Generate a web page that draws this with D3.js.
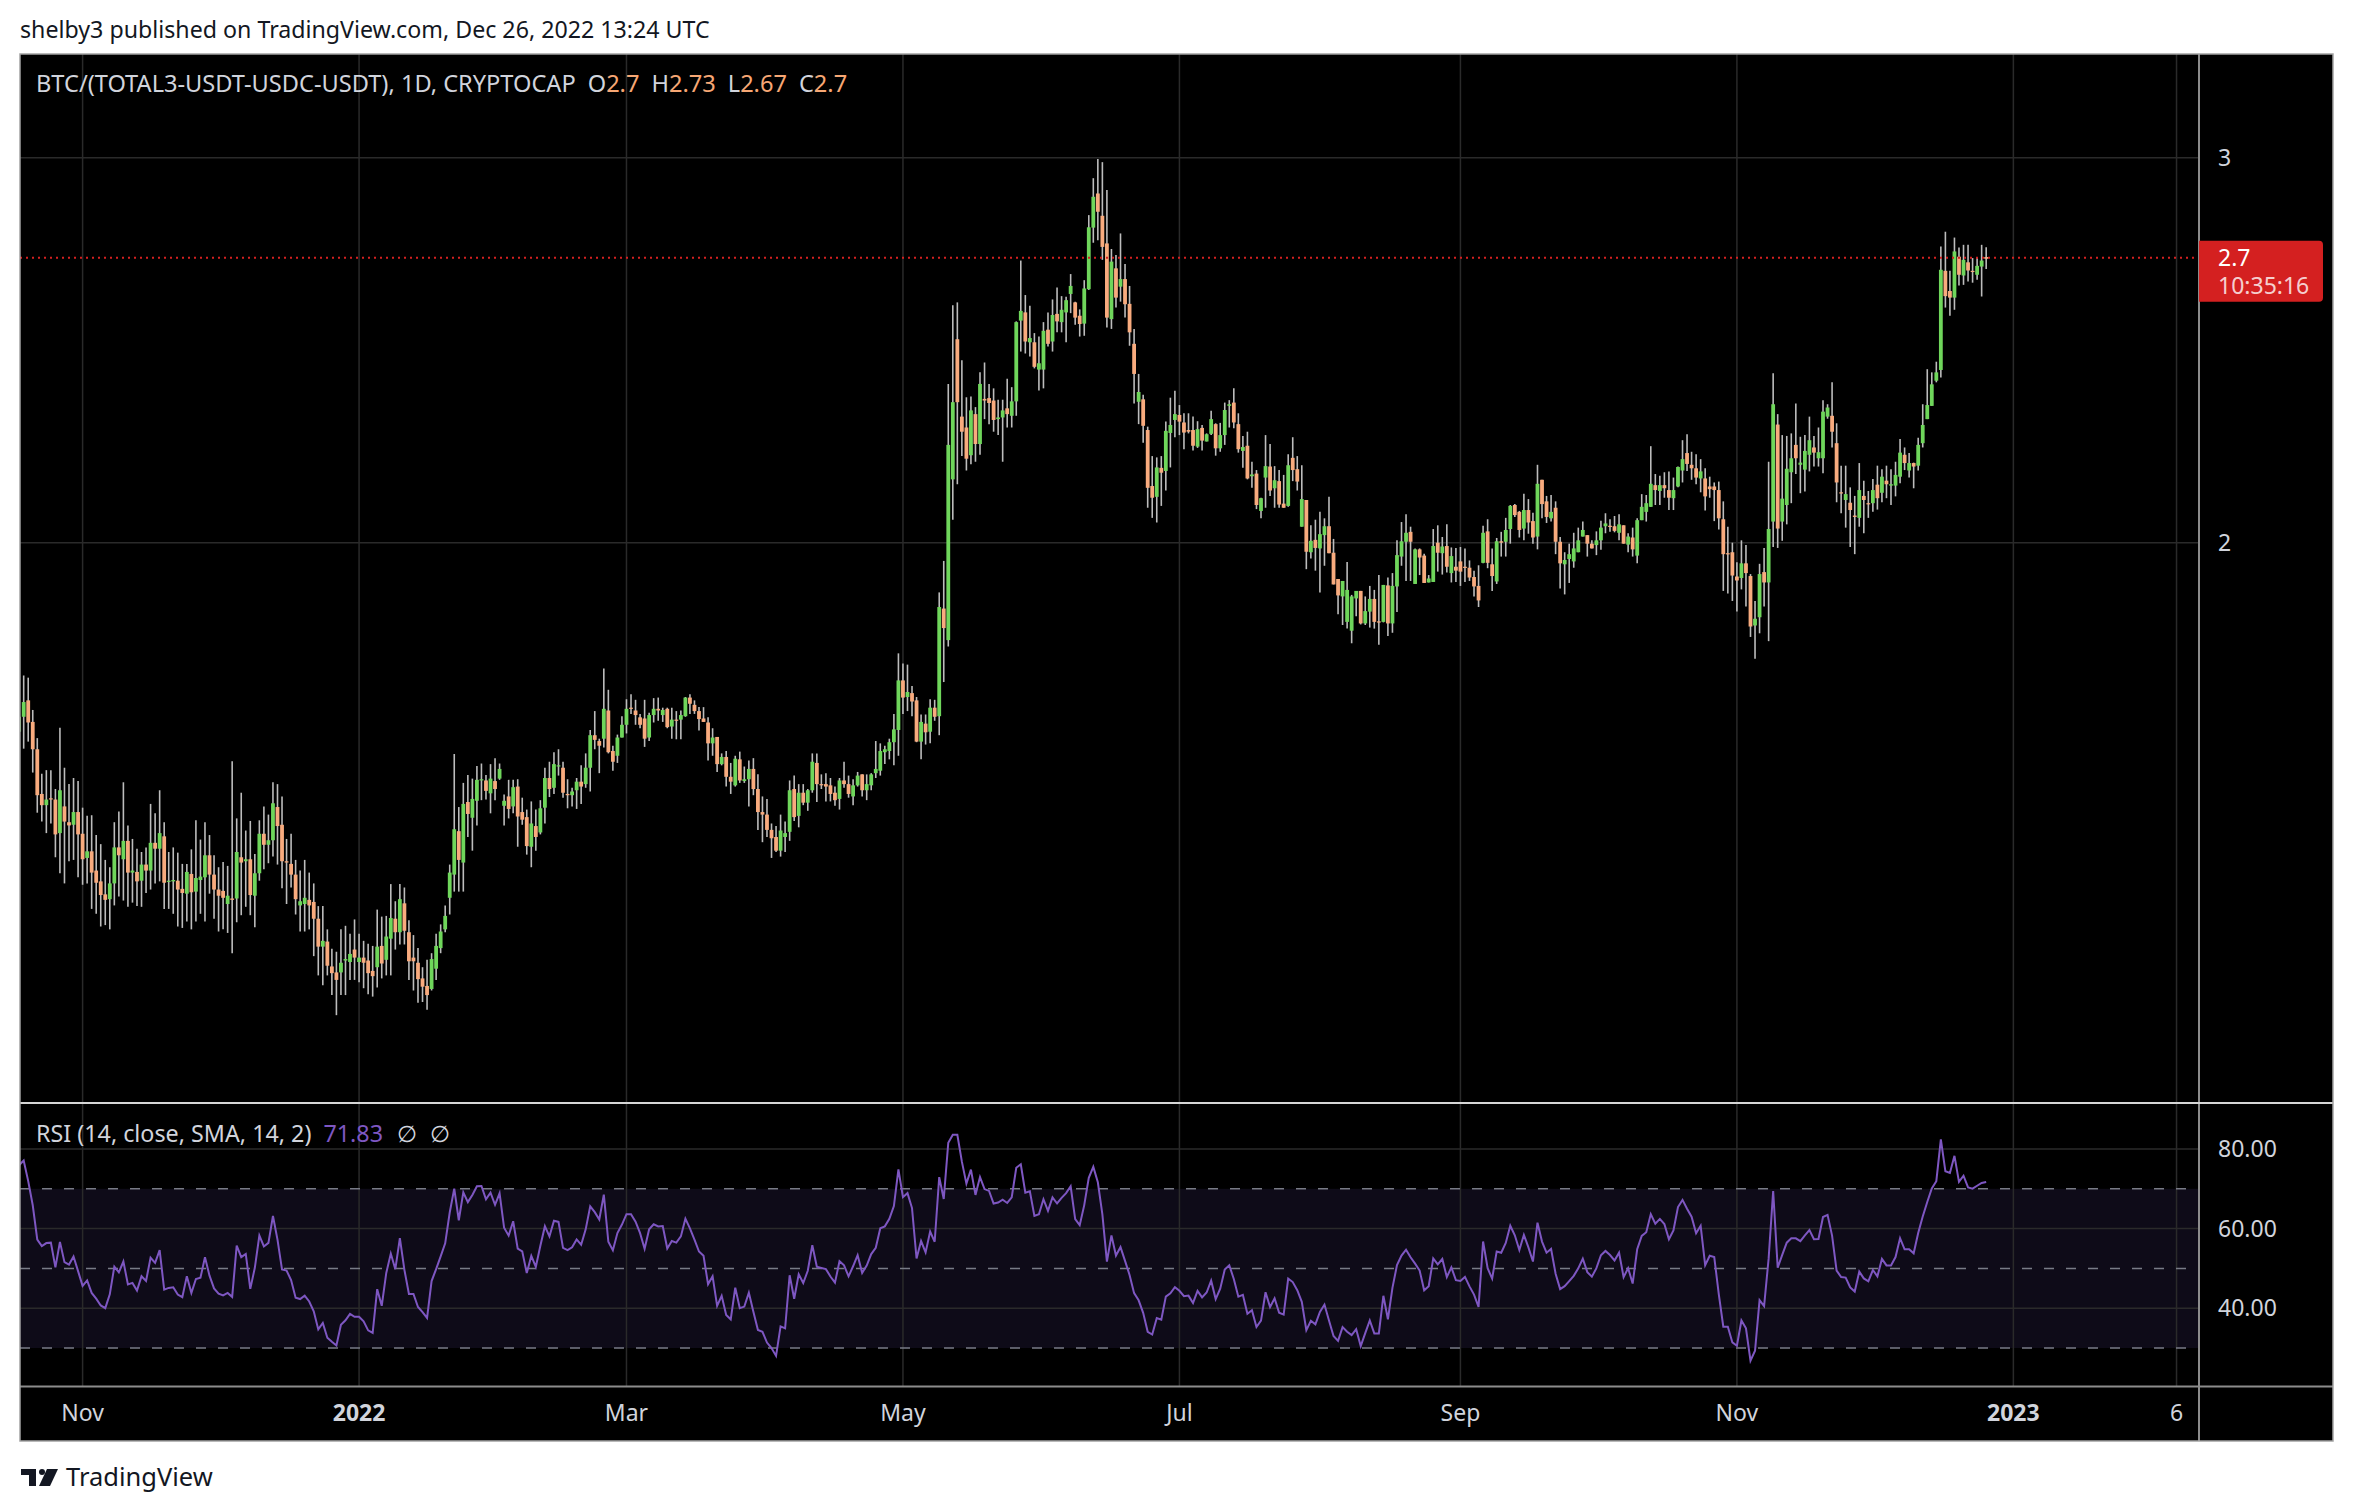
<!DOCTYPE html>
<html>
<head>
<meta charset="utf-8">
<script src="https://cdn.jsdelivr.net/npm/d3@7"></script>
<style>
  body { margin: 0; background: #fff; }
  svg text { font-family: "Noto Sans", "Open Sans", sans-serif; }
</style>
</head>
<body>
<svg id="chart" width="2354" height="1512"></svg>
<script>
// daily candles, first one is 2021-10-18
var startDay = '2021-10-18'

var opens = [
  1.639,1.665,1.694,1.656,1.609,1.535,1.517,1.528,1.526,1.473,
  1.515,1.490,1.486,1.506,1.472,1.435,1.445,1.416,1.400,1.381,
  1.374,1.397,1.451,1.433,1.461,1.413,1.414,1.401,1.425,1.416,
  1.458,1.449,1.468,1.400,1.400,1.401,1.389,1.382,1.411,1.385,
  1.402,1.406,1.439,1.410,1.388,1.386,1.367,1.375,1.375,1.436,
  1.430,1.433,1.379,1.412,1.472,1.455,1.462,1.514,1.486,1.430,
  1.426,1.410,1.365,1.367,1.373,1.370,1.346,1.307,1.314,1.280,
  1.272,1.272,1.288,1.286,1.303,1.286,1.292,1.288,1.274,1.279,
  1.308,1.289,1.318,1.346,1.327,1.368,1.327,1.292,1.285,1.264,
  1.254,1.250,1.277,1.305,1.331,1.376,1.410,1.476,1.428,1.522,
  1.497,1.524,1.557,1.557,1.536,1.556,1.560,1.516,1.531,1.515,
  1.547,1.506,1.498,1.452,1.484,1.474,1.513,1.561,1.545,1.580,
  1.578,1.535,1.533,1.541,1.555,1.551,1.578,1.633,1.623,1.627,
  1.676,1.606,1.598,1.629,1.651,1.681,1.676,1.664,1.662,1.629,
  1.668,1.679,1.668,1.679,1.648,1.660,1.660,1.666,1.699,1.686,
  1.675,1.662,1.655,1.619,1.630,1.584,1.596,1.563,1.549,1.592,
  1.556,1.559,1.576,1.543,1.506,1.502,1.478,1.467,1.446,1.467,
  1.475,1.543,1.500,1.537,1.521,1.541,1.586,1.551,1.551,1.549,
  1.537,1.527,1.557,1.551,1.531,1.549,1.567,1.541,1.549,1.569,
  1.573,1.604,1.606,1.621,1.642,1.730,1.700,1.707,1.694,1.622,
  1.653,1.639,1.681,1.666,1.866,1.805,2.138,2.478,2.284,2.258,
  2.193,2.290,2.219,2.327,2.329,2.323,2.278,2.282,2.304,2.286,
  2.321,2.527,2.549,2.470,2.470,2.400,2.400,2.503,2.472,2.545,
  2.523,2.549,2.599,2.576,2.540,2.519,2.612,2.787,2.889,2.822,
  2.741,2.531,2.670,2.619,2.640,2.572,2.466,2.320,2.326,2.252,
  2.123,2.099,2.164,2.157,2.245,2.276,2.288,2.270,2.252,2.252,
  2.213,2.257,2.225,2.243,2.266,2.209,2.240,2.310,2.318,2.266,
  2.203,2.215,2.145,2.151,2.068,2.142,2.167,2.118,2.134,2.084,
  2.079,2.187,2.161,2.034,2.092,1.980,2.006,1.988,2.016,2.035,
  1.979,1.925,1.890,1.840,1.823,1.886,1.901,1.837,1.860,1.885,
  1.841,1.840,1.912,1.837,1.910,1.971,2.002,2.023,1.915,1.986,
  1.973,1.918,1.919,2.000,1.978,1.993,1.937,1.950,1.961,1.950,
  1.948,1.929,1.911,1.958,2.024,1.955,1.920,2.003,2.002,2.029,
  2.081,2.066,2.030,2.070,2.046,2.013,2.137,2.089,2.052,2.075,
  2.002,1.955,1.966,1.961,1.980,2.013,2.016,1.998,1.995,2.005,
  2.035,2.036,2.035,2.021,2.037,1.996,2.011,1.973,2.048,2.066,
  2.077,2.125,2.112,2.125,2.114,2.096,2.122,2.158,2.198,2.171,
  2.163,2.140,2.140,2.122,2.122,2.114,2.050,1.978,1.980,1.930,
  1.927,1.957,1.931,1.833,1.849,1.939,1.918,2.045,2.265,2.045,
  2.081,2.154,2.217,2.171,2.160,2.194,2.211,2.186,2.186,2.284,
  2.286,2.221,2.109,2.092,2.086,2.058,2.053,2.101,2.085,2.085,
  2.126,2.108,2.135,2.124,2.124,2.144,2.194,2.158,2.175,2.169,
  2.221,2.278,2.310,2.372,2.399,2.663,2.607,2.589,2.703,2.650,
  2.687,2.663,2.652,2.675,2.702
]

var highs = [
  1.716,1.739,1.735,1.677,1.628,1.568,1.574,1.574,1.543,1.646,
  1.578,1.551,1.561,1.556,1.513,1.500,1.501,1.470,1.456,1.432,
  1.421,1.490,1.507,1.554,1.485,1.464,1.449,1.444,1.451,1.519,
  1.504,1.541,1.490,1.444,1.451,1.443,1.426,1.426,1.448,1.493,
  1.463,1.490,1.470,1.439,1.421,1.429,1.423,1.589,1.496,1.537,
  1.477,1.492,1.441,1.493,1.515,1.502,1.554,1.551,1.531,1.464,
  1.472,1.432,1.416,1.432,1.413,1.397,1.364,1.364,1.331,1.304,
  1.300,1.331,1.336,1.325,1.345,1.325,1.315,1.311,1.308,1.359,
  1.349,1.350,1.396,1.371,1.396,1.391,1.344,1.323,1.305,1.279,
  1.289,1.298,1.325,1.338,1.365,1.425,1.601,1.514,1.553,1.566,
  1.560,1.581,1.585,1.566,1.584,1.594,1.585,1.534,1.558,1.558,
  1.559,1.529,1.510,1.523,1.510,1.525,1.578,1.588,1.604,1.609,
  1.588,1.559,1.545,1.561,1.582,1.602,1.642,1.675,1.627,1.752,
  1.713,1.615,1.634,1.666,1.696,1.705,1.695,1.670,1.695,1.672,
  1.698,1.699,1.681,1.681,1.681,1.675,1.676,1.700,1.705,1.694,
  1.682,1.682,1.664,1.645,1.630,1.602,1.606,1.586,1.598,1.605,
  1.580,1.590,1.594,1.567,1.531,1.527,1.488,1.484,1.502,1.491,
  1.557,1.565,1.551,1.551,1.543,1.602,1.602,1.567,1.569,1.561,
  1.547,1.561,1.588,1.565,1.559,1.571,1.567,1.567,1.569,1.623,
  1.619,1.615,1.627,1.670,1.780,1.761,1.759,1.720,1.700,1.669,
  1.669,1.696,1.695,1.898,1.962,2.364,2.568,2.576,2.424,2.331,
  2.333,2.307,2.393,2.418,2.364,2.353,2.325,2.325,2.377,2.356,
  2.525,2.692,2.596,2.567,2.494,2.485,2.523,2.549,2.584,2.617,
  2.593,2.591,2.654,2.578,2.557,2.637,2.824,2.936,2.996,2.986,
  2.900,2.725,2.708,2.770,2.682,2.621,2.505,2.389,2.337,2.260,
  2.191,2.188,2.191,2.272,2.330,2.347,2.312,2.292,2.292,2.284,
  2.273,2.264,2.244,2.298,2.268,2.269,2.318,2.324,2.353,2.292,
  2.238,2.248,2.178,2.159,2.097,2.240,2.219,2.168,2.159,2.148,
  2.195,2.235,2.191,2.170,2.092,2.037,2.049,2.066,2.052,2.099,
  2.008,1.925,1.921,1.960,1.893,1.901,1.901,1.890,1.911,1.903,
  1.933,1.913,1.928,1.937,2.005,2.044,2.061,2.034,1.988,1.988,
  1.977,1.933,2.029,2.037,2.012,2.039,1.990,1.989,1.991,1.988,
  1.963,1.942,1.953,2.036,2.050,1.988,2.010,2.023,2.053,2.081,
  2.083,2.068,2.106,2.094,2.064,2.171,2.137,2.101,2.103,2.089,
  2.012,1.980,1.998,2.021,2.032,2.045,2.016,2.005,2.024,2.047,
  2.063,2.050,2.057,2.061,2.037,2.020,2.032,2.052,2.105,2.103,
  2.214,2.150,2.146,2.154,2.156,2.142,2.167,2.228,2.242,2.201,
  2.195,2.184,2.163,2.144,2.131,2.133,2.089,2.034,2.000,1.959,
  2.005,1.995,1.935,1.881,1.956,1.989,2.178,2.391,2.290,2.240,
  2.238,2.244,2.316,2.236,2.240,2.284,2.238,2.258,2.324,2.314,
  2.368,2.268,2.169,2.169,2.120,2.101,2.175,2.135,2.112,2.139,
  2.169,2.161,2.169,2.161,2.178,2.231,2.211,2.198,2.176,2.234,
  2.314,2.401,2.393,2.420,2.732,2.775,2.663,2.758,2.729,2.737,
  2.737,2.699,2.700,2.737,2.730
]

var lows = [
  1.599,1.610,1.622,1.570,1.505,1.491,1.473,1.488,1.436,1.412,
  1.397,1.430,1.432,1.406,1.395,1.397,1.360,1.353,1.335,1.337,
  1.331,1.365,1.378,1.372,1.363,1.369,1.364,1.363,1.383,1.388,
  1.397,1.400,1.360,1.360,1.353,1.335,1.333,1.342,1.331,1.342,
  1.353,1.342,1.382,1.346,1.328,1.331,1.326,1.298,1.341,1.351,
  1.363,1.351,1.334,1.401,1.418,1.427,1.437,1.425,1.390,1.367,
  1.391,1.352,1.328,1.328,1.331,1.294,1.268,1.255,1.268,1.242,
  1.216,1.242,1.242,1.262,1.262,1.259,1.251,1.243,1.240,1.252,
  1.264,1.268,1.268,1.303,1.310,1.310,1.262,1.248,1.232,1.233,
  1.223,1.248,1.262,1.298,1.327,1.352,1.385,1.385,1.385,1.467,
  1.446,1.485,1.525,1.526,1.504,1.525,1.558,1.485,1.496,1.504,
  1.452,1.486,1.440,1.421,1.446,1.471,1.488,1.530,1.535,1.565,
  1.529,1.512,1.515,1.511,1.519,1.545,1.539,1.609,1.569,1.612,
  1.602,1.573,1.586,1.629,1.636,1.670,1.651,1.645,1.613,1.623,
  1.655,1.658,1.656,1.645,1.627,1.626,1.626,1.665,1.670,1.670,
  1.641,1.656,1.590,1.598,1.571,1.582,1.547,1.535,1.547,1.553,
  1.553,1.515,1.533,1.478,1.459,1.467,1.435,1.444,1.437,1.444,
  1.461,1.492,1.482,1.517,1.508,1.537,1.522,1.543,1.523,1.523,
  1.516,1.510,1.545,1.529,1.517,1.547,1.531,1.525,1.541,1.561,
  1.565,1.584,1.592,1.582,1.598,1.670,1.675,1.666,1.621,1.592,
  1.617,1.619,1.658,1.633,1.727,1.793,2.049,2.127,2.191,2.158,
  2.172,2.178,2.194,2.278,2.266,2.248,2.240,2.178,2.258,2.258,
  2.286,2.446,2.441,2.433,2.403,2.348,2.353,2.459,2.446,2.496,
  2.496,2.470,2.547,2.516,2.485,2.487,2.610,2.743,2.750,2.694,
  2.509,2.505,2.562,2.578,2.535,2.461,2.316,2.266,2.222,2.075,
  2.053,2.043,2.079,2.113,2.165,2.235,2.240,2.207,2.244,2.204,
  2.210,2.204,2.225,2.240,2.192,2.201,2.217,2.258,2.256,2.199,
  2.164,2.138,2.119,2.072,2.052,2.075,2.101,2.075,2.075,2.075,
  2.077,2.134,2.113,2.034,1.945,1.967,1.942,1.898,1.952,1.978,
  1.914,1.855,1.834,1.827,1.799,1.851,1.835,1.834,1.829,1.827,
  1.796,1.839,1.813,1.819,1.859,1.952,1.921,1.921,1.915,1.933,
  1.917,1.918,1.919,1.940,1.934,1.938,1.918,1.919,1.911,1.919,
  1.921,1.890,1.869,1.957,1.947,1.901,1.915,1.971,1.971,1.998,
  2.055,2.011,2.005,2.019,1.998,1.986,2.052,2.042,2.045,1.976,
  1.906,1.894,1.917,1.948,1.980,2.013,1.971,1.988,1.974,1.985,
  2.020,2.023,2.022,2.005,1.998,1.980,1.971,1.957,2.048,2.045,
  2.077,2.081,2.081,2.097,2.070,2.070,2.120,2.131,2.157,2.137,
  2.127,2.109,2.069,2.097,2.046,2.028,1.901,1.896,1.881,1.860,
  1.904,1.870,1.811,1.770,1.818,1.870,1.803,1.991,1.989,2.004,
  2.039,2.085,2.150,2.107,2.111,2.156,2.167,2.167,2.152,2.279,
  2.211,2.087,2.063,2.032,1.991,1.976,2.034,2.020,2.053,2.066,
  2.071,2.087,2.096,2.081,2.100,2.129,2.159,2.142,2.118,2.158,
  2.211,2.278,2.310,2.368,2.380,2.562,2.540,2.556,2.622,2.624,
  2.633,2.630,2.638,2.592,2.668
]

var closes = [
  1.665,1.691,1.655,1.609,1.533,1.517,1.526,1.527,1.471,1.541,
  1.491,1.485,1.506,1.471,1.433,1.445,1.413,1.398,1.380,1.373,
  1.397,1.451,1.439,1.461,1.413,1.416,1.400,1.425,1.416,1.458,
  1.449,1.473,1.398,1.401,1.402,1.388,1.383,1.414,1.384,1.405,
  1.407,1.439,1.410,1.388,1.379,1.376,1.379,1.373,1.444,1.428,
  1.433,1.380,1.412,1.472,1.455,1.462,1.520,1.484,1.430,1.428,
  1.410,1.374,1.371,1.376,1.365,1.346,1.307,1.315,1.281,1.271,
  1.262,1.285,1.290,1.297,1.292,1.292,1.285,1.271,1.267,1.307,
  1.284,1.321,1.347,1.327,1.374,1.329,1.287,1.287,1.263,1.253,
  1.242,1.290,1.308,1.328,1.350,1.413,1.479,1.432,1.519,1.503,
  1.527,1.558,1.559,1.540,1.560,1.543,1.576,1.524,1.511,1.546,
  1.499,1.494,1.453,1.488,1.467,1.512,1.561,1.543,1.584,1.582,
  1.537,1.533,1.539,1.555,1.547,1.578,1.633,1.625,1.615,1.679,
  1.604,1.588,1.629,1.651,1.679,1.679,1.668,1.651,1.627,1.668,
  1.679,1.676,1.677,1.647,1.660,1.658,1.668,1.699,1.688,1.675,
  1.661,1.656,1.619,1.629,1.584,1.596,1.563,1.555,1.593,1.557,
  1.559,1.576,1.543,1.506,1.502,1.478,1.465,1.446,1.477,1.473,
  1.541,1.498,1.537,1.521,1.541,1.588,1.551,1.549,1.547,1.535,
  1.525,1.557,1.551,1.535,1.549,1.565,1.541,1.551,1.567,1.576,
  1.606,1.609,1.621,1.643,1.730,1.699,1.709,1.692,1.622,1.656,
  1.638,1.681,1.665,1.869,1.828,2.217,2.319,2.319,2.248,2.185,
  2.299,2.219,2.364,2.323,2.317,2.276,2.282,2.299,2.290,2.321,
  2.523,2.553,2.472,2.481,2.407,2.416,2.500,2.466,2.542,2.525,
  2.556,2.582,2.621,2.535,2.518,2.614,2.788,2.879,2.834,2.731,
  2.535,2.689,2.589,2.640,2.571,2.496,2.389,2.344,2.262,2.119,
  2.097,2.165,2.153,2.250,2.264,2.290,2.272,2.246,2.248,2.215,
  2.254,2.227,2.242,2.278,2.209,2.240,2.300,2.314,2.270,2.207,
  2.212,2.140,2.149,2.081,2.096,2.168,2.113,2.136,2.082,2.075,
  2.170,2.159,2.133,2.094,1.981,2.004,1.989,2.018,2.035,1.978,
  1.914,1.892,1.921,1.903,1.890,1.901,1.837,1.861,1.885,1.840,
  1.840,1.913,1.837,1.911,1.974,2.003,2.021,2.002,1.986,1.969,
  1.917,1.926,1.993,1.979,1.992,1.950,1.972,1.942,1.940,1.948,
  1.928,1.910,1.882,2.021,1.958,1.931,2.003,2.000,2.027,2.079,
  2.059,2.027,2.070,2.043,2.011,2.128,2.083,2.055,2.066,2.002,
  1.957,1.964,1.976,1.988,2.005,2.027,1.998,1.988,2.005,2.032,
  2.041,2.034,2.025,2.039,1.998,2.013,1.986,2.048,2.077,2.085,
  2.128,2.114,2.125,2.118,2.097,2.114,2.166,2.184,2.173,2.163,
  2.142,2.156,2.100,2.116,2.114,2.052,1.976,1.976,1.932,1.922,
  1.957,1.937,1.831,1.846,1.935,1.918,2.029,2.314,2.030,2.095,
  2.162,2.186,2.186,2.176,2.203,2.228,2.199,2.200,2.296,2.306,
  2.248,2.131,2.107,2.105,2.070,2.055,2.114,2.092,2.083,2.114,
  2.096,2.144,2.127,2.127,2.148,2.199,2.175,2.175,2.167,2.217,
  2.264,2.312,2.363,2.393,2.666,2.593,2.589,2.718,2.652,2.694,
  2.664,2.661,2.677,2.692,2.697
]

var rsiSeedGain = 0.030
var rsiSeedLoss = 0.0095
var rsiLength = 14

var timeTicks = ['2021-11-01','2022-01-01','2022-03-01','2022-05-01','2022-07-01','2022-09-01','2022-11-01','2023-01-01','2023-02-06']
var timeLabels = ['Nov','2022','Mar','May','Jul','Sep','Nov','2023','6']
var boldLabels = ['2022','2023']
var priceTicks = [3, 2]
var rsiTicks = [80, 60, 40]
var rsiLevels = [70, 50, 30]
var lastPrice = 2.7
var countdown = '10:35:16'

var W = 2354, H = 1512
var frame = { left: 20, top: 54, right: 2333, bottom: 1441 }
var paneRight = 2199
var pricePane = { top: 55, bottom: 1102 }
var rsiPane = { top: 1104, bottom: 1386 }

var green = '#6fd65b', orange = '#f8ab7e', wickColor = '#bcbcbc'
var gridColor = '#2a2a2a', axisText = '#d1d4dc'
var fs = 23

var svg = d3.select('#chart')
var parseDay = d3.utcParse('%Y-%m-%d')
var first = parseDay(startDay)
var dates = closes.map(function(c, i) { return d3.utcDay.offset(first, i) })

var x = d3.scaleUtc()
  .domain([parseDay('2021-11-01'), parseDay('2022-11-01')])
  .range([82.6, 1736.9])
var y = d3.scaleLog().domain([2, 3]).range([542.7, 157.7])
var yr = d3.scaleLinear().domain([80, 30]).range([1149, 1348])

// RSI (Wilder smoothing) of the closes
var rsi = []
var up = rsiSeedGain, dn = rsiSeedLoss
rsi.push({ i: 0, v: 100 - 100 / (1 + up / dn) })
for (var i = 1; i < closes.length; i++) {
  var ch = closes[i] - closes[i - 1]
  up = (up * (rsiLength - 1) + Math.max(ch, 0)) / rsiLength
  dn = (dn * (rsiLength - 1) + Math.max(-ch, 0)) / rsiLength
  rsi.push({ i: i, v: 100 - 100 / (1 + up / dn) })
}

svg.append('rect').attr('width', W).attr('height', H).attr('fill', '#fff')

svg.append('text')
  .attr('x', 20).attr('y', 38)
  .attr('font-size', 23.2).attr('fill', '#131722')
  .text('shelby3 published on TradingView.com, Dec 26, 2022 13:24 UTC')

svg.append('rect')
  .attr('x', frame.left).attr('y', frame.top)
  .attr('width', frame.right - frame.left).attr('height', frame.bottom - frame.top)
  .attr('fill', '#000')

var defs = svg.append('defs')
defs.append('clipPath').attr('id', 'clipPrice').append('rect')
  .attr('x', frame.left).attr('y', pricePane.top)
  .attr('width', paneRight - frame.left).attr('height', pricePane.bottom - pricePane.top)
defs.append('clipPath').attr('id', 'clipRsi').append('rect')
  .attr('x', frame.left).attr('y', rsiPane.top)
  .attr('width', paneRight - frame.left).attr('height', rsiPane.bottom - rsiPane.top)

// rsi band
svg.append('rect')
  .attr('x', frame.left).attr('y', yr(70))
  .attr('width', paneRight - frame.left).attr('height', yr(30) - yr(70))
  .attr('fill', '#0e0b18')

// grid
var grid = svg.append('g').attr('stroke', gridColor).attr('stroke-width', 1.5)
timeTicks.forEach(function(t) {
  var xx = x(parseDay(t))
  grid.append('line').attr('x1', xx).attr('x2', xx).attr('y1', frame.top).attr('y2', rsiPane.bottom)
})
priceTicks.forEach(function(p) {
  grid.append('line').attr('x1', frame.left).attr('x2', paneRight).attr('y1', y(p)).attr('y2', y(p))
})
rsiTicks.forEach(function(p) {
  grid.append('line').attr('x1', frame.left).attr('x2', paneRight).attr('y1', yr(p)).attr('y2', yr(p))
})

svg.append('g').selectAll('line').data(rsiLevels).enter().append('line')
  .attr('x1', frame.left).attr('x2', paneRight - 12)
  .attr('y1', function(d) { return yr(d) }).attr('y2', function(d) { return yr(d) })
  .attr('stroke', '#787b86').attr('stroke-width', 1.5)
  .attr('stroke-dasharray', '10,12')

// candles
var candles = svg.append('g').attr('clip-path', 'url(#clipPrice)')
var bw = 3.8
candles.selectAll('line').data(closes).enter().append('line')
  .attr('x1', function(d, i) { return x(dates[i]) })
  .attr('x2', function(d, i) { return x(dates[i]) })
  .attr('y1', function(d, i) { return y(highs[i]) })
  .attr('y2', function(d, i) { return y(lows[i]) })
  .attr('stroke', wickColor).attr('stroke-width', 1.6)
candles.selectAll('rect').data(closes).enter().append('rect')
  .attr('x', function(d, i) { return x(dates[i]) - bw / 2 })
  .attr('width', bw)
  .attr('y', function(d, i) { return y(Math.max(opens[i], d)) })
  .attr('height', function(d, i) { return Math.max(1.2, Math.abs(y(opens[i]) - y(d))) })
  .attr('fill', function(d, i) { return d >= opens[i] ? green : orange })

// last price line
svg.append('line')
  .attr('x1', frame.left).attr('x2', paneRight)
  .attr('y1', y(lastPrice)).attr('y2', y(lastPrice))
  .attr('stroke', '#d42020').attr('stroke-width', 2)
  .attr('stroke-dasharray', '2,4')

// rsi line
var rsiLine = d3.line()
  .x(function(d) { return x(dates[d.i]) })
  .y(function(d) { return yr(d.v) })
svg.append('path').datum(rsi)
  .attr('clip-path', 'url(#clipRsi)')
  .attr('d', rsiLine)
  .attr('fill', 'none').attr('stroke', '#7e57c2').attr('stroke-width', 2)

// separators and frame
var sep = svg.append('g')
sep.append('line').attr('x1', paneRight).attr('x2', paneRight).attr('y1', frame.top).attr('y2', frame.bottom)
  .attr('stroke', '#8c8c8c').attr('stroke-width', 2)
sep.append('line').attr('x1', frame.left).attr('x2', frame.right).attr('y1', 1103).attr('y2', 1103)
  .attr('stroke', '#d6d6d6').attr('stroke-width', 2)
sep.append('line').attr('x1', frame.left).attr('x2', frame.right).attr('y1', rsiPane.bottom + 0.5).attr('y2', rsiPane.bottom + 0.5)
  .attr('stroke', '#8c8c8c').attr('stroke-width', 2)
sep.append('rect')
  .attr('x', frame.left).attr('y', frame.top)
  .attr('width', frame.right - frame.left).attr('height', frame.bottom - frame.top)
  .attr('fill', 'none').attr('stroke', '#a3a3a3').attr('stroke-width', 1.5)

// time axis labels
svg.append('g').selectAll('text').data(timeTicks).enter().append('text')
  .attr('x', function(d) { return x(parseDay(d)) })
  .attr('y', 1421)
  .attr('text-anchor', 'middle')
  .attr('font-size', fs)
  .attr('font-weight', function(d, i) { return boldLabels.indexOf(timeLabels[i]) >= 0 ? 700 : 400 })
  .attr('fill', axisText)
  .text(function(d, i) { return timeLabels[i] })

// price axis labels
svg.append('g').selectAll('text').data(priceTicks).enter().append('text')
  .attr('x', 2218).attr('y', function(d) { return y(d) + 8 })
  .attr('font-size', fs).attr('fill', axisText)
  .text(function(d) { return d })
svg.append('g').selectAll('text').data(rsiTicks).enter().append('text')
  .attr('x', 2218).attr('y', function(d) { return yr(d) + 8 })
  .attr('font-size', fs).attr('fill', axisText)
  .text(function(d) { return d3.format('.2f')(d) })

// last price tag
var tagY = y(lastPrice)
svg.append('path')
  .attr('d', 'M2199,' + (tagY - 17) + 'H2319a4,4 0 0 1 4,4V' + (tagY + 40) + 'a4,4 0 0 1 -4,4H2199Z')
  .attr('fill', '#d42020')
svg.append('text').attr('x', 2218).attr('y', tagY + 8)
  .attr('font-size', fs).attr('fill', '#fff').text(d3.format('.1f')(lastPrice))
svg.append('text').attr('x', 2218).attr('y', tagY + 36)
  .attr('font-size', fs).attr('fill', '#fff').attr('fill-opacity', 0.8).text(countdown)

// legends
var lastI = closes.length - 1
var leg = svg.append('text').attr('x', 36).attr('y', 92).attr('font-size', 23.6).attr('fill', axisText)
leg.append('tspan').text('BTC/(TOTAL3-USDT-USDC-USDT), 1D, CRYPTOCAP')
var ohlc = [['O', opens[lastI], '.1f'], ['H', highs[lastI], '.2f'], ['L', lows[lastI], '.2f'], ['C', closes[lastI], '.1f']]
ohlc.forEach(function(p, k) {
  leg.append('tspan').attr('dx', 12).text(p[0])
  leg.append('tspan').attr('fill', '#f7a774').text(d3.format(p[2])(p[1]))
})

var rleg = svg.append('text').attr('x', 36).attr('y', 1142).attr('font-size', 23.3).attr('fill', axisText)
rleg.append('tspan').text('RSI (14, close, SMA, 14, 2)')
rleg.append('tspan').attr('dx', 12).attr('fill', '#7e57c2').text('71.83')
rleg.append('tspan').attr('dx', 14).text('\u2205')
rleg.append('tspan').attr('dx', 13).text('\u2205')

// footer logo
var logo = svg.append('g').attr('transform', 'translate(21,1469)').attr('fill', '#131722')
logo.append('path').attr('d', 'M0,0H15V17H8V6H0Z')
logo.append('circle').attr('cx', 21).attr('cy', 3).attr('r', 3)
logo.append('path').attr('d', 'M26,0H37L29,17H18Z')
svg.append('text').attr('x', 66).attr('y', 1486)
  .attr('font-size', 25.5).attr('fill', '#131722').text('TradingView')
</script>
</body>
</html>
